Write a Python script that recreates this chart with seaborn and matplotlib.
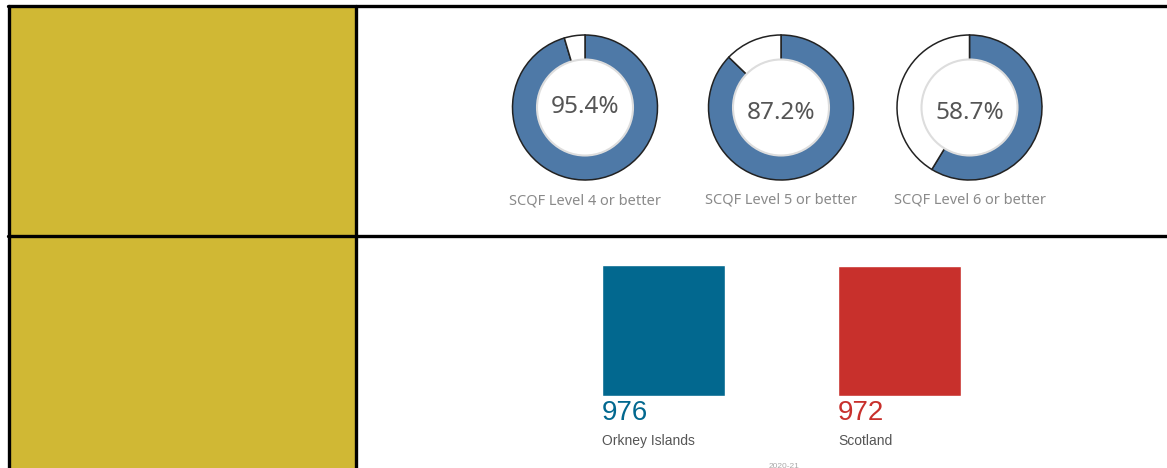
import matplotlib.pyplot as plt
import seaborn as sns
import pandas as pd
from matplotlib.patches import Rectangle, Circle
from matplotlib.lines import Line2D

levels = ['SCQF Level 4 or better', 'SCQF Level 5 or better', 'SCQF Level 6 or better']
pct = [95.4, 87.2, 58.7]
areas = ['Orkney Islands', 'Scotland']
tariff = [976, 972]
bar_colors = ['#02688f', '#c8302c']

W, H = 1167, 468
sns.set_theme(style='white')
plt.rcParams['font.family'] = ['Noto Sans', 'DejaVu Sans']

fig = plt.figure(figsize=(W / 100, H / 100), dpi=100)
fig.patch.set_facecolor('white')


def fx(px):
    return px / W


def fy(py):
    return 1 - py / H


# gold side panel and grid lines
fig.add_artist(Rectangle((fx(9), 0), fx(347), fy(6), transform=fig.transFigure,
                         facecolor='#d0b834', edgecolor='none', zorder=0))
lw = 2.4
for x0, y0, x1, y1 in [(8, 6, W, 6), (9, 6, 9, H), (356, 6, 356, H), (8, 236, W, 236)]:
    fig.add_artist(Line2D([fx(x0), fx(x1)], [fy(y0), fy(y1)], transform=fig.transFigure,
                          color='black', lw=lw, zorder=5))

# donuts
centers = [(585, 107.5), (781, 107.5), (969.5, 107.5)]
text_y = [107, 113, 113]
label_y = [201, 200, 200]
R = 72.5
for i, (cx, cy) in enumerate(centers):
    ax = fig.add_axes([fx(cx - R - 2), fy(cy + R + 2), fx(2 * R + 4), (2 * R + 4) / H])
    ax.pie([pct[i], 100 - pct[i]], colors=['#4e79a7', 'white'], startangle=90,
           counterclock=False, radius=1,
           wedgeprops=dict(edgecolor='#222222', linewidth=1.1))
    ax.add_patch(Circle((0, 0), 48 / R, facecolor='white', edgecolor='#dddddd', lw=1.5, zorder=3))
    ax.set_xlim(-(R + 2) / R, (R + 2) / R)
    ax.set_ylim(-(R + 2) / R, (R + 2) / R)
    ax.set_aspect('equal')
    ax.axis('off')
    fig.text(fx(cx), fy(text_y[i]), f'{pct[i]}%', ha='center', va='center',
             fontsize=17.5, color='#555555', fontweight='light')
    fig.text(fx(cx), fy(label_y[i]), levels[i], ha='center', va='center',
             fontsize=10.5, color='#8a8a8a')

# bars
df = pd.DataFrame({'area': areas, 'value': tariff})
unit = 236
ytop = 1050
bottom_px = 396
h_px = 131 * ytop / tariff[0]
left_px = 663.5 - unit / 2
bax = fig.add_axes([fx(left_px), fy(bottom_px), fx(2 * unit), h_px / H])
sns.barplot(data=df, x='area', y='value', hue='area', palette=bar_colors,
            width=123 / unit, legend=False, ax=bax, saturation=1)
bax.set_xlim(-0.5, 1.5)
bax.set_ylim(0, ytop)
bax.axis('off')

bar_left = [602, 838]
for i in range(2):
    fig.text(fx(bar_left[i]), fy(413), str(tariff[i]), ha='left', va='center',
             fontsize=20, color=bar_colors[i], family=['Liberation Sans', 'DejaVu Sans'])
    fig.text(fx(bar_left[i]), fy(441), areas[i], ha='left', va='center',
             fontsize=10, color='#555555', family=['Liberation Sans', 'DejaVu Sans'])

fig.text(fx(784), fy(466), '2020-21', ha='center', va='center', fontsize=6,
         color='#aaaaaa', family=['Liberation Sans', 'DejaVu Sans'])

fig.savefig('out.png', dpi=100)
